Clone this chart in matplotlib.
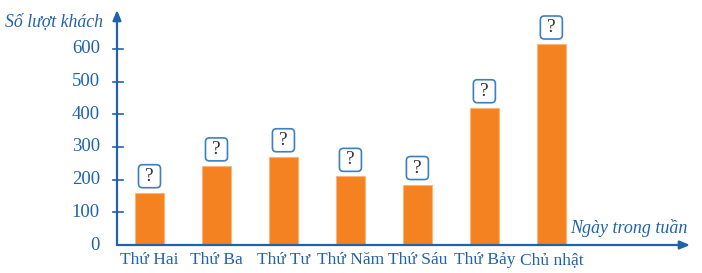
import matplotlib
matplotlib.use("Agg")
import matplotlib.pyplot as plt
from matplotlib.patches import FancyBboxPatch
from matplotlib.transforms import IdentityTransform

categories = ["Thứ Hai", "Thứ Ba", "Thứ Tư", "Thứ Năm", "Thứ Sáu", "Thứ Bảy", "Chủ nhật"]
values = [160, 242, 270, 210, 185, 420, 615]
yticks = [100, 200, 300, 400, 500, 600]
ylabel = "Số lượt khách"
xlabel = "Ngày trong tuần"

BLUE = "#1f62ad"
ORANGE = "#f58220"
W, H = 702, 273

fig = plt.figure(figsize=(W / 100, H / 100), dpi=100)
left, right, bottom, top = 117, 690, 245, 10
ax = fig.add_axes([left / W, (H - bottom) / H, (right - left) / W, (bottom - top) / H])
ax.set_xlim(-0.485, 8.07)
ax.set_ylim(0, 719)
for s in ax.spines.values():
    s.set_visible(False)
ax.set_xticks([])
ax.set_yticks([])

x = list(range(len(categories)))
ax.bar(x, values, width=0.435, color=ORANGE, edgecolor="#fbb47a", linewidth=0.8, zorder=2)

serif = ["Liberation Serif", "DejaVu Serif"]

# axes arrows
for xy in [(0, 1.0), (1.0, 0)]:
    ax.annotate("", xy=xy, xytext=(0, 0), xycoords="axes fraction",
                arrowprops=dict(arrowstyle="-|>,head_length=0.6,head_width=0.25", color=BLUE,
                                lw=1.6, shrinkA=0, shrinkB=0),
                zorder=5, annotation_clip=False)

# y ticks
for t in yticks:
    ax.plot([-0.545, -0.395], [t, t], color=BLUE, lw=1.2, clip_on=False, zorder=5)
    ax.text(-0.74, t, str(t), ha="right", va="center", color=BLUE, fontsize=13.5,
            family=serif)
ax.text(-0.74, 0, "0", ha="right", va="center", color=BLUE, fontsize=13.5, family=serif)

# category labels
for i, c in enumerate(categories):
    ax.text(i, -45, c, ha="center", va="center", color=BLUE, fontsize=12.6, family=serif,
            clip_on=False)

# question boxes (fixed pixel size, placed above each bar)
fig.canvas.draw()
for i, v in enumerate(values):
    cx, cy = ax.transData.transform((i, v))
    cy += 16.5
    box = FancyBboxPatch((cx - 11, cy - 11.5), 22, 23,
                         boxstyle="round,pad=0,rounding_size=4",
                         facecolor="white", edgecolor="#3c7fc4", linewidth=1.2,
                         transform=IdentityTransform(), zorder=4)
    fig.add_artist(box)
    fig.text(cx / W, cy / H, "?", ha="center", va="center", color="#333333",
             fontsize=14, family=serif, zorder=6)

# axis labels
fig.text(103 / W, 1 - 22 / H, ylabel, ha="right", va="center", color=BLUE, fontsize=12.8,
         family=serif, style="italic")
fig.text(688 / W, 1 - 228 / H, xlabel, ha="right", va="center", color=BLUE, fontsize=13,
         family=serif, style="italic")

fig.savefig("out.png", dpi=100)
